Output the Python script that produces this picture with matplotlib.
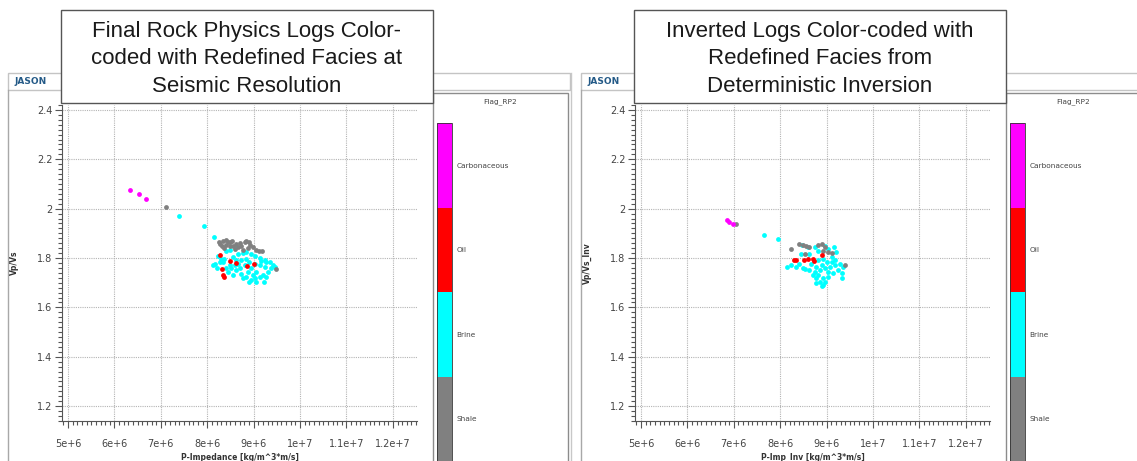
import numpy as np
import matplotlib
matplotlib.use("Agg")
from matplotlib import pyplot as plt
from matplotlib.patches import Rectangle
from matplotlib.lines import Line2D
from matplotlib.colors import ListedColormap, BoundaryNorm
from matplotlib.cm import ScalarMappable
from matplotlib.ticker import FixedLocator, MultipleLocator

W, H = 1137, 461

facies = ["Shale", "Brine", "Oil", "Carbonaceous"]
facies_colors = ["#808080", "#00ffff", "#ff0000", "#ff00ff"]

x_ticks = [5e6, 6e6, 7e6, 8e6, 9e6, 1e7, 1.1e7, 1.2e7]
x_tick_labels = ["5e+6", "6e+6", "7e+6", "8e+6", "9e+6", "1e+7", "1.1e+7", "1.2e+7"]
y_ticks = [1.2, 1.4, 1.6, 1.8, 2.0, 2.2, 2.4]
y_tick_labels = ["1.2", "1.4", "1.6", "1.8", "2", "2.2", "2.4"]

# ---- left panel: rock physics logs (impedance in 1e6 kg/m^3*m/s) ----
rp_carb_x = [6.34, 6.54, 6.69]
rp_carb_y = [2.074, 2.058, 2.039]
rp_shale_x = [7.12, 8.28, 8.34, 8.40, 8.45, 8.50, 8.54, 8.32, 8.41, 8.48, 8.55,
              8.61, 8.66, 8.73, 8.81, 8.84, 8.90, 8.93, 8.99, 9.04, 9.12, 9.17,
              8.37, 8.59, 8.77, 8.88, 9.48, 8.70, 8.25]
rp_shale_y = [2.007, 1.857, 1.870, 1.874, 1.866, 1.864, 1.869, 1.850, 1.853, 1.848, 1.850,
              1.857, 1.844, 1.850, 1.866, 1.870, 1.864, 1.853, 1.844, 1.834, 1.830, 1.827,
              1.840, 1.837, 1.834, 1.840, 1.755, 1.861, 1.864]
rp_brine_x = [7.40, 7.93, 8.15, 8.61, 8.48, 8.41, 8.16, 8.12, 8.21, 8.34, 8.37, 8.55,
              8.66, 8.77, 8.84, 8.95, 9.02, 9.13, 9.24, 9.35, 9.42, 9.38, 9.31, 9.20,
              9.13, 9.02, 8.95, 9.06, 9.22, 8.84, 8.73, 8.63, 8.52, 8.45, 8.56, 8.70,
              8.81, 8.91, 9.02, 9.13, 9.24, 9.27, 9.16, 8.73, 8.84, 8.62, 8.48, 8.27,
              8.41, 8.95, 9.06, 8.88, 8.98, 9.27, 9.45, 8.77, 8.91, 8.66, 8.59, 8.30, 8.23]
rp_brine_y = [1.970, 1.928, 1.886, 1.850, 1.834, 1.830, 1.777, 1.773, 1.760, 1.784, 1.797, 1.804,
              1.817, 1.821, 1.824, 1.817, 1.810, 1.800, 1.791, 1.784, 1.771, 1.758, 1.744, 1.731,
              1.724, 1.718, 1.711, 1.705, 1.705, 1.724, 1.737, 1.751, 1.758, 1.744, 1.731, 1.758,
              1.771, 1.784, 1.777, 1.771, 1.764, 1.784, 1.787, 1.791, 1.797, 1.791, 1.771, 1.784,
              1.758, 1.758, 1.744, 1.744, 1.731, 1.724, 1.764, 1.718, 1.705, 1.777, 1.771, 1.797, 1.808]
rp_oil_x = [8.28, 8.48, 8.63, 8.86, 9.00, 8.32, 8.34, 8.37]
rp_oil_y = [1.813, 1.788, 1.781, 1.768, 1.777, 1.755, 1.731, 1.723]

# ---- right panel: inverted logs ----
inv_carb_x = [6.85, 6.90, 6.98]
inv_carb_y = [1.954, 1.948, 1.938]
inv_shale_x = [7.05, 8.23, 8.41, 8.49, 8.56, 8.63, 8.81, 8.89, 8.97, 9.03, 9.11, 8.92,
               9.40, 8.54]
inv_shale_y = [1.938, 1.837, 1.857, 1.853, 1.850, 1.844, 1.853, 1.857, 1.844, 1.824, 1.820, 1.830,
               1.771, 1.817]
inv_brine_x = [7.65, 7.96, 8.15, 8.23, 8.34, 8.41, 8.47, 8.54, 8.45, 8.63, 8.74, 8.81,
               8.96, 9.03, 9.16, 9.21, 9.11, 9.00, 8.89, 8.78, 8.67, 8.74, 8.85, 8.96,
               9.07, 9.18, 9.29, 9.36, 9.32, 9.25, 9.14, 9.03, 8.92, 8.81, 8.78, 8.85,
               8.96, 8.78, 8.89, 8.92, 8.71, 8.63, 9.03, 9.18, 8.92, 8.81, 8.60, 9.32,
               8.49, 9.11]
inv_brine_y = [1.894, 1.877, 1.764, 1.771, 1.764, 1.777, 1.853, 1.755, 1.817, 1.817, 1.844, 1.830,
               1.850, 1.837, 1.844, 1.824, 1.804, 1.784, 1.771, 1.764, 1.777, 1.744, 1.751, 1.758,
               1.764, 1.771, 1.777, 1.764, 1.738, 1.751, 1.738, 1.725, 1.718, 1.732, 1.718, 1.705,
               1.705, 1.698, 1.685, 1.689, 1.732, 1.751, 1.745, 1.791, 1.797, 1.791, 1.844, 1.718,
               1.758, 1.784]
inv_oil_x = [8.29, 8.34, 8.52, 8.60, 8.71, 8.73, 8.89]
inv_oil_y = [1.793, 1.791, 1.793, 1.795, 1.797, 1.787, 1.811]


def fig_rect(x0, y0, x1, y1):
    """pixel box (top-left origin) -> figure fraction [l, b, w, h]"""
    return [x0 / W, 1 - y1 / H, (x1 - x0) / W, (y1 - y0) / H]


def fx(px):
    return px / W


def fy(py):
    return 1 - py / H


fig = plt.figure(figsize=(W / 100, H / 100), dpi=100)
fig.patch.set_facecolor("white")


def frame(x0, y0, x1, y1, ec="#a8a8a8", lw=1.0, z=1, fc="none"):
    l, b, w, h = fig_rect(x0, y0, x1, y1)
    fig.add_artist(Rectangle((l, b), w, h, transform=fig.transFigure,
                             facecolor=fc, edgecolor=ec, lw=lw, zorder=z))


def vline(px, y0, y1, color="#a8a8a8", lw=1.0):
    fig.add_artist(Line2D([fx(px), fx(px)], [fy(y0), fy(y1)],
                          transform=fig.transFigure, color=color, lw=lw, zorder=2))


def panel(dx, title, xlabel, ylabel, series):
    # window chrome
    frame(8 + dx, 73, 570 + dx, 90, ec="#c4c4c4")
    fig.text(fx(14 + dx), fy(82), "JASON", fontsize=6.5, fontweight="bold",
             color="#245a87", va="center", ha="left", zorder=3)
    vline(8 + dx, 90, 470)
    frame(433 + dx, 93, 568 + dx, 470, ec="#8c8c8c")
    vline(571 + dx, 73, 470, color="#c8c8c8")

    # scatter axes
    ax = fig.add_axes(fig_rect(62 + dx, 105, 417 + dx, 421))
    ax.set_zorder(3)
    for xs, ys, c in series:
        ax.scatter(np.array(xs) * 1e6, ys, s=12, color=c, linewidths=0, zorder=3)
    ax.set_xlim(4.87e6, 12.52e6)
    ax.set_ylim(1.14, 2.42)
    ax.xaxis.set_major_locator(FixedLocator(x_ticks))
    ax.set_xticklabels(x_tick_labels)
    ax.yaxis.set_major_locator(FixedLocator(y_ticks))
    ax.set_yticklabels(y_tick_labels)
    ax.xaxis.set_minor_locator(MultipleLocator(1e5))
    ax.yaxis.set_minor_locator(MultipleLocator(0.02))
    ax.tick_params(which="both", direction="out", color="#555555", width=0.8)
    ax.tick_params(which="major", length=5, labelsize=7, labelcolor="#444444")
    ax.tick_params(which="minor", length=3)
    ax.tick_params(axis="x", which="major", pad=8)
    ax.tick_params(axis="y", which="major", pad=2)
    ax.grid(True, which="major", color="#b4b4b4", lw=0.8, linestyle=(0, (1, 1)))
    ax.set_axisbelow(True)
    ax.patch.set_alpha(0)
    for side in ("top", "right"):
        ax.spines[side].set_visible(False)
    for side in ("left", "bottom"):
        ax.spines[side].set_color("#555555")
        ax.spines[side].set_linewidth(0.8)
    ax.set_xlabel(xlabel, fontsize=5.5, fontweight="bold", color="#333333")
    ax.set_ylabel(ylabel, fontsize=5.5, fontweight="bold", color="#333333")
    ax.xaxis.set_label_coords(0.5, -0.1)
    ax.yaxis.set_label_coords(-0.12, 0.5)

    # facies colour bar
    fig.text(fx(500 + dx), fy(102), "Flag_RP2", fontsize=5.3, color="#444444",
             ha="center", va="center", zorder=3)
    cax = fig.add_axes(fig_rect(437 + dx, 123, 452 + dx, 461))
    cax.set_zorder(3)
    cmap = ListedColormap(facies_colors)
    norm = BoundaryNorm(np.arange(len(facies) + 1), cmap.N)
    cb = fig.colorbar(ScalarMappable(norm=norm, cmap=cmap), cax=cax,
                      ticks=np.arange(len(facies)) + 0.5)
    cb.set_ticklabels(facies)
    cb.minorticks_off()
    cb.outline.set_linewidth(0.6)
    cb.outline.set_edgecolor("#333333")
    cax.tick_params(which="both", length=0, pad=3, labelsize=5.3, labelcolor="#444444")

    # slide title box on top
    frame(61 + dx, 10, 433 + dx, 103, ec="#555555", lw=1.0, z=5, fc="white")
    fig.text(fx(247 + dx), fy(59), title, fontsize=16, family="Liberation Sans",
             color="#1a1a1a", ha="center", va="center", linespacing=1.42, zorder=6)
    return ax


panel(0,
      "Final Rock Physics Logs Color-\ncoded with Redefined Facies at\nSeismic Resolution",
      "P-Impedance [kg/m^3*m/s]", "Vp/Vs",
      [(rp_brine_x, rp_brine_y, facies_colors[1]),
       (rp_shale_x, rp_shale_y, facies_colors[0]),
       (rp_oil_x, rp_oil_y, facies_colors[2]),
       (rp_carb_x, rp_carb_y, facies_colors[3])])

panel(573,
      "Inverted Logs Color-coded with\nRedefined Facies from\nDeterministic Inversion",
      "P-Imp_Inv [kg/m^3*m/s]", "Vp/Vs_Inv",
      [(inv_brine_x, inv_brine_y, facies_colors[1]),
       (inv_shale_x, inv_shale_y, facies_colors[0]),
       (inv_oil_x, inv_oil_y, facies_colors[2]),
       (inv_carb_x, inv_carb_y, facies_colors[3])])

fig.savefig("out.png", dpi=100)
